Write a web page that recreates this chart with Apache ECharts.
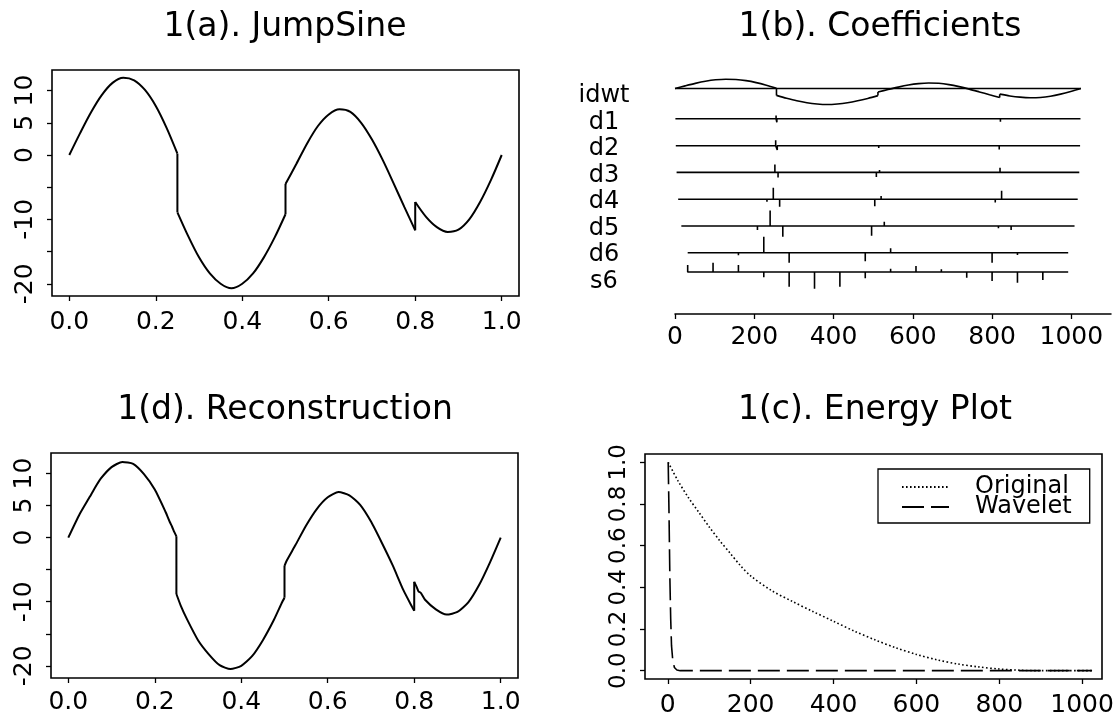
<!DOCTYPE html>
<html>
<head>
<meta charset="utf-8">
<title>Wavelet decomposition of JumpSine</title>
<script src="https://cdn.jsdelivr.net/npm/echarts@6.0.0/dist/echarts.min.js"></script>
<style>
  html, body { margin: 0; padding: 0; background: #fff; }
  #main { width: 1118px; height: 719px; }
</style>
</head>
<body>
<div id="main"></div>
<script>
// 1(a) JumpSine. a repeated t is a jump
const jumpT = [0, 0.025, 0.05, 0.075, 0.1, 0.125, 0.15, 0.175, 0.2, 0.225, 0.25, 0.25,
  0.275, 0.3, 0.325, 0.35, 0.375, 0.4, 0.425, 0.45, 0.475, 0.5, 0.5,
  0.525, 0.55, 0.575, 0.6, 0.625, 0.65, 0.675, 0.7, 0.725, 0.75, 0.775, 0.8, 0.8,
  0.825, 0.85, 0.875, 0.9, 0.925, 0.95, 0.975, 1.0];
const jumpSine = [0, 3.4, 6.6, 9.3, 11.2, 12.0, 11.6, 10.1, 7.6, 4.2, 0.2, -8.9,
  -12.6, -15.9, -18.4, -20.0, -20.7, -20.0, -18.4, -15.9, -12.8, -9.2, -4.5,
  -1.4, 1.8, 4.5, 6.3, 7.1, 6.7, 5.0, 2.4, -0.8, -4.4, -8.1, -11.7, -7.3,
  -9.6, -11.2, -11.95, -11.6, -10.0, -7.3, -3.9, 0];

// 1(d) reconstruction (a bit rougher near the jumps)
const reconT = [0, 0.025, 0.05, 0.06, 0.075, 0.1, 0.125, 0.15, 0.175, 0.2, 0.225, 0.235, 0.24, 0.245, 0.25, 0.25,
  0.26, 0.275, 0.3, 0.325, 0.35, 0.375, 0.4, 0.425, 0.45, 0.475, 0.495, 0.5, 0.5,
  0.505, 0.525, 0.55, 0.575, 0.6, 0.625, 0.65, 0.675, 0.7, 0.725, 0.75, 0.775, 0.795, 0.8, 0.8,
  0.805, 0.81, 0.815, 0.825, 0.85, 0.875, 0.9, 0.925, 0.95, 0.975, 1.0];
const reconValues = [0, 3.5, 6.4, 7.6, 9.2, 11.0, 11.8, 11.5, 9.9, 7.5, 4.0, 2.4, 1.7, 0.9, 0.2, -8.8,
  -10.6, -12.8, -16.0, -18.2, -19.9, -20.5, -20.0, -18.5, -16.0, -12.9, -10.0, -9.4, -4.4,
  -3.6, -1.2, 1.9, 4.5, 6.3, 7.1, 6.6, 5.1, 2.5, -0.8, -4.3, -8.2, -10.8, -11.4, -6.9,
  -7.6, -8.4, -8.6, -9.7, -11.2, -12.0, -11.6, -10.1, -7.4, -3.9, 0];

// 1(b) coefficients: [position, value] of the spikes that show, the rest is ~0
const rowNames = ['idwt', 'd1', 'd2', 'd3', 'd4', 'd5', 'd6', 's6'];
const rowSpan = [[0, 1024], [1, 1023], [2, 1022], [4, 1020], [8, 1016], [16, 1008], [32, 992], [32, 992]];
const coefD1 = [[255, 4], [257, -4.5], [513, 2], [821, -4]];
const coefD2 = [[254, 7], [258, -5.5], [514, -3], [818, -5]];
const coefD3 = [[252, 10], [260, -6.5], [508, -6], [516, 3], [820, 6], [828, -2]];
const coefD4 = [[232, -3], [248, 15], [264, -9.5], [504, -9], [520, 4.3], [808, -4], [824, 11], [840, -2]];
const coefD5 = [[208, -5], [240, 20], [272, -13.8], [304, 2], [496, -12.5], [528, 5.6], [816, -3], [848, -5]];
const coefD6 = [[96, 1.7], [160, -3.4], [224, 20.6], [288, -13], [352, 1.3], [480, -11], [544, 5.6],
  [736, 2], [800, -13], [864, -3]];
const coefS6 = [[32, 9], [96, 12], [160, 9], [224, -6.9], [288, -19], [352, -21.5], [416, -19], [480, -8.2],
  [544, 4.3], [608, 7.7], [672, 3.4], [736, -7.3], [800, -11.6], [864, -13.8], [928, -10.3]];

// 1(c) energy left after keeping the largest n terms
const originalIdx = [1, 25, 50, 75, 100, 125, 150, 175, 200, 250, 300, 350, 400, 450, 500, 550,
  600, 650, 700, 750, 800, 850, 900, 1024];
const originalEnergy = [1.0, 0.91, 0.83, 0.76, 0.69, 0.625, 0.565, 0.505, 0.455, 0.385, 0.333, 0.284,
  0.237, 0.19, 0.148, 0.11, 0.078, 0.052, 0.032, 0.018, 0.008, 0.002, 0, 0];
const waveletIdx = [1, 3, 5, 7, 9, 12, 16, 22, 30, 1024];
const waveletEnergy = [1.0, 0.75, 0.45, 0.25, 0.12, 0.05, 0.015, 0.003, 0, 0];

// ticks and labels
const unitTicks = [0, 0.2, 0.4, 0.6, 0.8, 1.0];
const sineTicks = [-20, -15, -10, -5, 0, 5, 10];
const sineLabels = [-20, -10, 0, 5, 10];
const indexTicks = [0, 200, 400, 600, 800, 1000];

// layout of the coefficient rows (baselines, in the panel's y units)
const rowBase = [291, 252, 217.2, 182.8, 148, 113.5, 79.1, 54.2];

const font = 'DejaVu Sans';
const ink = '#000';

function pairs(xs, ys) {
  return xs.map((x, i) => [x, ys[i]]);
}

// split a curve at repeated t: smooth pieces, plus straight vertical jumps
function curveParts(ts, vs, kx, dy) {
  const curve = [], jumps = [];
  ts.forEach((t, i) => {
    const p = [t * kx, vs[i] + dy];
    if (i > 0 && t === ts[i - 1]) {
      curve.push([p[0], null]);
      jumps.push([p[0], vs[i - 1] + dy], p, [p[0], null]);
    }
    curve.push(p);
  });
  return { curve: curve, jumps: jumps };
}

function spikeRow(span, spikes, base) {
  const pts = [[span[0], base]];
  spikes.forEach(function (s) {
    pts.push([s[0], base], [s[0], base + s[1]], [s[0], base]);
  });
  pts.push([span[1], base]);
  return pts;
}

function valueAxis(gridIndex, min, max, ticks, labels, fmt, opts) {
  opts = opts || {};
  return {
    type: 'value', gridIndex: gridIndex, min: min, max: max,
    axisLine: { show: !!opts.line, onZero: false, lineStyle: { color: ink, width: 1.5 } },
    axisTick: { show: true, customValues: ticks, length: 5, lineStyle: { color: ink, width: 1.3 } },
    axisLabel: {
      customValues: labels, formatter: fmt, margin: opts.margin || 13, rotate: opts.rotate || 0,
      color: ink, fontFamily: font, fontSize: opts.size || 25
    },
    splitLine: { show: false }
  };
}

function lineSeries(name, xi, yi, data, style, smooth) {
  return {
    name: name, type: 'line', xAxisIndex: xi, yAxisIndex: yi, data: data,
    showSymbol: false, symbol: 'none', silent: true, animation: false,
    smooth: smooth || false, connectNulls: false,
    lineStyle: Object.assign({ color: ink, width: 2 }, style || {}),
    itemStyle: { color: ink }
  };
}

const oneDec = v => v.toFixed(1);
const plain = v => String(v);

const boxGrid = { show: true, borderColor: ink, borderWidth: 1.6, backgroundColor: 'transparent', outerBoundsMode: 'none' };

const sineParts = curveParts(jumpT, jumpSine, 1, 0);
const reconParts = curveParts(reconT, reconValues, 1, 0);
const idwtParts = curveParts(jumpT, jumpSine, 1024, rowBase[0]);

const coefRows = [coefD1, coefD2, coefD3, coefD4, coefD5, coefD6, coefS6];
const coefSeries = coefRows.map((c, i) =>
  lineSeries(rowNames[i + 1], 1, 1, spikeRow(rowSpan[i + 1], c, rowBase[i + 1]), { width: 1.6 }));

const options = {
  backgroundColor: '#fff',
  animation: false,
  title: [
    { text: '1(a). JumpSine', left: 285, top: 11 },
    { text: '1(b). Coefficients', left: 880, top: 11 },
    { text: '1(d). Reconstruction', left: 285, top: 394 },
    { text: '1(c). Energy Plot', left: 875, top: 394 }
  ].map(t => Object.assign(t, {
    textAlign: 'center', padding: 0,
    textStyle: { fontFamily: font, fontSize: 33, fontWeight: 'normal', color: ink }
  })),
  legend: {
    data: ['Original', 'Wavelet'],
    orient: 'vertical', left: 878, top: 469,
    backgroundColor: '#fff', borderColor: ink, borderWidth: 1.3, borderRadius: 0,
    padding: [6, 18, 4, 23], itemGap: -4, itemWidth: 47, itemHeight: 12,
    itemStyle: { opacity: 0, borderWidth: 0 },
    textStyle: { fontFamily: font, fontSize: 24, color: ink, padding: [0, 0, 0, 21] }
  },
  grid: [
    Object.assign({ left: 52, top: 70, width: 467, height: 226 }, boxGrid),
    { left: 675, top: 74, width: 436, height: 240, outerBoundsMode: 'none' },
    Object.assign({ left: 645, top: 454, width: 457, height: 225 }, boxGrid),
    Object.assign({ left: 51, top: 453, width: 467, height: 225 }, boxGrid),
    { left: 640, top: 83, width: 10, height: 212, outerBoundsMode: 'none' }
  ],
  xAxis: [
    valueAxis(0, -0.04, 1.04, unitTicks, unitTicks, oneDec, { margin: 14 }),
    valueAxis(1, 0, 1100, indexTicks, indexTicks, plain, { line: true, margin: 11 }),
    valueAxis(2, -55, 1048, indexTicks, indexTicks, plain, { margin: 14 }),
    valueAxis(3, -0.04, 1.04, unitTicks, unitTicks, oneDec, { margin: 12 }),
    { type: 'value', gridIndex: 4, show: false }
  ],
  yAxis: [
    valueAxis(0, -21.9, 13.2, sineTicks, sineLabels, plain, { rotate: 90, margin: 14 }),
    { type: 'value', gridIndex: 1, min: 0, max: 309.7, show: false },
    valueAxis(2, -0.04, 1.04, unitTicks, unitTicks, oneDec, { rotate: 90, margin: 14, size: 23 }),
    valueAxis(3, -21.9, 13.2, sineTicks, sineLabels, plain, { rotate: 90, margin: 14 }),
    {
      type: 'category', gridIndex: 4, data: rowNames, inverse: true,
      axisLine: { show: false }, axisTick: { show: false },
      axisLabel: { interval: 0, align: 'center', margin: 36, color: ink, fontFamily: font, fontSize: 24 }
    }
  ],
  series: [
    lineSeries('JumpSine', 0, 0, sineParts.curve, null, 0.3),
    lineSeries('JumpSine jumps', 0, 0, sineParts.jumps),
    lineSeries('idwt base', 1, 1, [[rowSpan[0][0], rowBase[0]], [rowSpan[0][1], rowBase[0]]], { width: 1.6 }),
    lineSeries('idwt', 1, 1, idwtParts.curve, { width: 1.6 }, 0.3),
    lineSeries('idwt jumps', 1, 1, idwtParts.jumps, { width: 1.6 }),
    ...coefSeries,
    lineSeries('Original', 2, 2, pairs(originalIdx, originalEnergy), { width: 1.6, type: [1.6, 2.4] }, 0.3),
    lineSeries('Wavelet', 2, 2, pairs(waveletIdx, waveletEnergy), { width: 1.6, type: [22, 7] }),
    lineSeries('Reconstruction', 3, 3, reconParts.curve, null, 0.2),
    lineSeries('Reconstruction jumps', 3, 3, reconParts.jumps)
  ]
};

const container = document.getElementById('main');
const myChart = echarts.init(container);
myChart.setOption(options);
window.addEventListener('resize', () => { myChart.resize(); });
</script>
</body>
</html>
